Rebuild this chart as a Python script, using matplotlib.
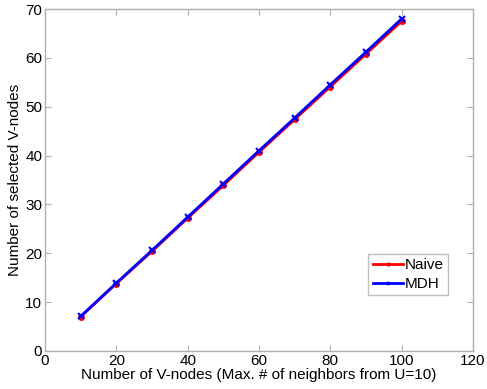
import numpy as np
import matplotlib
matplotlib.use("Agg")
import matplotlib.pyplot as plt

plt.rcParams['font.family'] = ['Liberation Sans', 'DejaVu Sans']

nodes = [10, 20, 30, 40, 50, 60, 70, 80, 90, 100]
naive = [7.0, 13.8, 20.4, 27.2, 33.9, 40.7, 47.4, 54.1, 60.8, 67.5]
mdh = [7.1, 13.9, 20.6, 27.4, 34.2, 41.0, 47.7, 54.5, 61.2, 68.0]

fig = plt.figure(figsize=(4.87, 3.89), dpi=100)
ax = fig.add_axes([45/487, 1 - 351/389, 428/487, 342/389])

ax.plot(nodes, naive, color='red', marker='o', markersize=4, linewidth=2, label='Naive')
ax.plot(nodes, mdh, color='blue', marker='x', markersize=4, markeredgewidth=1.5, linewidth=2, label='MDH')

ax.set_xlim(0, 120)
ax.set_ylim(0, 70)
ax.set_xticks(np.arange(0, 121, 20))
ax.set_yticks(np.arange(0, 71, 10))
ax.tick_params(direction='in', top=True, right=True, labelsize=11, colors='#b0b0b0',
               labelcolor='black', length=4, pad=2)
for s in ax.spines.values():
    s.set_color('#b0b0b0')
    s.set_linewidth(1)

ax.set_xlabel('Number of V-nodes (Max. # of neighbors from U=10)', fontsize=11, labelpad=0)
ax.set_ylabel('Number of selected V-nodes', fontsize=11, labelpad=2)

leg = ax.legend(loc='lower right', bbox_to_anchor=(0.96, 0.14), fontsize=11, fancybox=False,
                handlelength=2.0, handletextpad=0.1, borderpad=0.3, labelspacing=0.3,
                markerscale=0.5)
leg.get_frame().set_edgecolor('#b0b0b0')
leg.get_frame().set_linewidth(1)

fig.savefig('out.png', dpi=100)
